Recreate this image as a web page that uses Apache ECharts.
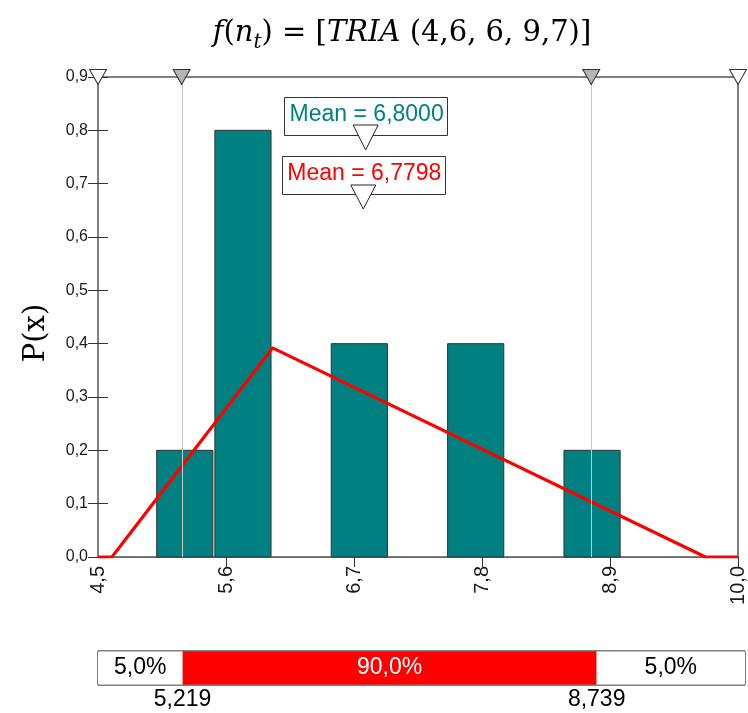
<!DOCTYPE html>
<html>
<head>
<meta charset="utf-8">
<script src="https://cdn.jsdelivr.net/npm/echarts@6/dist/echarts.min.js"></script>
<style>
  html, body { margin: 0; padding: 0; background: #ffffff; }
  #chart { width: 748px; height: 713px; }
</style>
</head>
<body>
<div id="chart"></div>
<script>
// Histogram of the sampled values: bin start, common bin width, density
const binStarts = [5.0, 5.5, 6.5, 7.5, 8.5];
const binWidth = 0.5;
const binDensity = [0.2, 0.8, 0.4, 0.4, 0.2];

// Fitted triangular density TRIA(4,6; 6; 9,7) as polyline vertices
const triX = [4.5, 4.62, 6.0, 9.72, 10.0];
const triY = [0, 0, 0.392, 0, 0];

// Means of the sample and of the fitted distribution
const meanSample = 6.8000;
const meanFit = 6.7798;

// 90 % interval delimiters and tail percentages
const lowerQ = 5.219;
const upperQ = 8.739;
const bandPct = [5.0, 90.0, 5.0];

// Axis ranges and tick positions
const xMin = 4.5, xMax = 10.0;
const xTickValues = [4.5, 5.6, 6.7, 7.8, 8.9, 10.0];
const xTickMarks = [5.6, 6.7, 7.8, 8.9, 10.0];
const yMin = 0, yMax = 0.9, yStep = 0.1;

const TEAL = '#008080';
const RED = '#ff0000';
const SANS = 'Liberation Sans';
const SERIF = 'DejaVu Serif';
const comma = (v, d) => v.toFixed(d).replace('.', ',');

const chart = echarts.init(document.getElementById('chart'), null, { renderer: 'canvas' });

const histData = binStarts.map((s, i) => [s, s + binWidth, binDensity[i]]);
const triData = triX.map((x, i) => [x, triY[i]]);
const bounds = [xMin, lowerQ, upperQ, xMax];
const bandData = bandPct.map((p, i) => [bounds[i], bounds[i + 1], p]);
const bandFill = ['#ffffff', RED, '#ffffff'];
const bandText = ['#000000', '#ffffff', '#000000'];

const option = {
  animation: false,
  backgroundColor: '#ffffff',
  title: {
    text: '{i|f}({i|n}{s|t}) = [{i|TRIA} (4,6, 6, 9,7)]',
    left: 397,
    top: 8,
    textAlign: 'center',
    textStyle: {
      fontFamily: SERIF, fontSize: 29, fontWeight: 'normal', color: '#000', lineHeight: 40,
      rich: {
        i: { fontFamily: SERIF, fontSize: 29, fontStyle: 'italic', color: '#000', lineHeight: 40 },
        s: { fontFamily: SERIF, fontSize: 20, fontStyle: 'italic', color: '#000', lineHeight: 20, verticalAlign: 'bottom' }
      }
    }
  },
  grid: [
    { left: 98, top: 77, width: 647, height: 480, show: true, borderColor: '#000', borderWidth: 1, backgroundColor: 'transparent' },
    { left: 98, top: 651, width: 647, height: 34, show: true, borderColor: '#000', borderWidth: 1, backgroundColor: 'transparent' }
  ],
  xAxis: [
    {
      type: 'value', gridIndex: 0, min: xMin, max: xMax,
      axisLine: { show: true, onZero: false, lineStyle: { color: '#666', width: 1 } },
      axisTick: { show: true, inside: false, length: 10, customValues: xTickMarks, lineStyle: { color: '#333' } },
      axisLabel: {
        show: true, rotate: 90, margin: 9, customValues: xTickValues,
        fontFamily: SANS, fontSize: 20, color: '#1a1a1a',
        formatter: v => comma(v, 1)
      },
      splitLine: { show: false }
    },
    {
      type: 'value', gridIndex: 1, min: xMin, max: xMax,
      axisLine: { show: false }, axisTick: { show: false }, splitLine: { show: false },
      axisLabel: {
        show: true, margin: 3, customValues: [lowerQ, upperQ],
        fontFamily: SANS, fontSize: 23, color: '#000',
        formatter: v => comma(v, 3)
      }
    }
  ],
  yAxis: [
    {
      type: 'value', gridIndex: 0, min: yMin, max: yMax, interval: yStep,
      axisLine: { show: true, lineStyle: { color: '#808080', width: 1 } },
      axisTick: { show: true, inside: false, length: 10, lineStyle: { color: '#333' } },
      axisLabel: { margin: 10, fontFamily: SANS, fontSize: 16, color: '#1a1a1a', formatter: v => comma(v, 1) },
      splitLine: { show: false }
    },
    {
      type: 'value', gridIndex: 0, min: yMin, max: yMax, interval: yStep, position: 'left',
      axisLine: { show: false },
      axisTick: { show: true, inside: true, length: 10, lineStyle: { color: '#333' } },
      axisLabel: { show: false }, splitLine: { show: false }
    },
    {
      type: 'value', gridIndex: 1, min: 0, max: 1, show: false
    }
  ],
  series: [
    {
      name: 'histogram', type: 'custom', xAxisIndex: 0, yAxisIndex: 0, z: 2,
      encode: { x: [0, 1], y: 2 },
      data: histData,
      renderItem: (params, api) => {
        const p0 = api.coord([api.value(0), 0]);
        const p1 = api.coord([api.value(1), api.value(2)]);
        return {
          type: 'rect',
          shape: { x: p0[0] + 0.5, y: p1[1], width: p1[0] - p0[0] - 2, height: p0[1] - p1[1] },
          style: { fill: TEAL, stroke: '#333', lineWidth: 1 }
        };
      },
      markLine: {
        silent: true, symbol: 'none', label: { show: false },
        lineStyle: { color: '#c8c8c8', width: 1, type: 'solid' },
        data: [{ xAxis: lowerQ }, { xAxis: upperQ }]
      }
    },
    {
      name: 'TRIA', type: 'line', xAxisIndex: 0, yAxisIndex: 0, z: 4,
      data: triData, symbol: 'none', showSymbol: false,
      lineStyle: { color: RED, width: 3.2 }
    },
    {
      name: 'delimiters', type: 'line', xAxisIndex: 0, yAxisIndex: 0, z: 6,
      data: [], symbol: 'none',
      markPoint: {
        symbol: 'triangle', symbolRotate: 180, symbolSize: [17, 15], silent: true,
        label: { show: false },
        itemStyle: { borderColor: '#333', borderWidth: 1 },
        data: [
          { coord: [xMin, yMax], itemStyle: { color: '#ffffff' } },
          { coord: [lowerQ, yMax], itemStyle: { color: '#b4b4b4' } },
          { coord: [upperQ, yMax], itemStyle: { color: '#b4b4b4' } },
          { coord: [xMax, yMax], itemStyle: { color: '#ffffff' } }
        ]
      }
    },
    {
      name: 'band', type: 'custom', xAxisIndex: 1, yAxisIndex: 2, z: 2,
      encode: { x: [0, 1] },
      data: bandData,
      renderItem: (params, api) => {
        const i = params.dataIndex;
        const a = api.coord([api.value(0), 1]);
        const b = api.coord([api.value(1), 0]);
        return {
          type: 'group',
          children: [
            { type: 'rect', shape: { x: a[0], y: a[1] + 0.5, width: b[0] - a[0], height: b[1] - a[1] - 1 }, style: { fill: bandFill[i] } },
            {
              type: 'text',
              style: {
                text: comma(api.value(2), 1) + '%',
                x: (a[0] + b[0]) / 2, y: (a[1] + b[1]) / 2,
                align: 'center', verticalAlign: 'middle', textAlign: 'center', textVerticalAlign: 'middle',
                font: '23px "' + SANS + '"', fill: bandText[i]
              }
            }
          ]
        };
      }
    }
  ]
};

chart.setOption(option);

// Mean markers: boxed caption with a downward pointer at the mean position
function meanMarker(value, color, boxTop, boxH, triTop, triH) {
  const px = chart.convertToPixel({ xAxisIndex: 0, yAxisIndex: 0 }, [value, 0])[0];
  const w = 163;
  return [
    {
      type: 'rect', z: 10,
      shape: { x: Math.round(px - w / 2) + 0.5, y: boxTop + 0.5, width: w, height: boxH },
      style: { fill: '#ffffff', stroke: '#333', lineWidth: 1 }
    },
    {
      type: 'text', z: 11,
      style: {
        text: 'Mean = ' + comma(value, 4),
        x: px + 1, y: boxTop + boxH / 2 - 1,
        align: 'center', verticalAlign: 'middle', textAlign: 'center', textVerticalAlign: 'middle',
        font: '23px "' + SANS + '"', fill: color
      }
    },
    {
      type: 'polygon', z: 12,
      shape: { points: [[px - 12.5, triTop], [px + 12.5, triTop], [px, triTop + triH]] },
      style: { fill: '#ffffff', stroke: '#222', lineWidth: 1 }
    }
  ];
}

chart.setOption({
  graphic: [
    {
      type: 'text', z: 10,
      x: 36, y: 333, rotation: Math.PI / 2,
      style: {
        text: 'P(x)', x: 0, y: 0,
        align: 'center', verticalAlign: 'middle', textAlign: 'center', textVerticalAlign: 'middle',
        font: '29px "' + SERIF + '"', fill: '#000'
      }
    },
    ...meanMarker(meanSample, TEAL, 97, 38, 125, 25),
    ...meanMarker(meanFit, RED, 156, 38, 185, 24)
  ]
});
</script>
</body>
</html>
